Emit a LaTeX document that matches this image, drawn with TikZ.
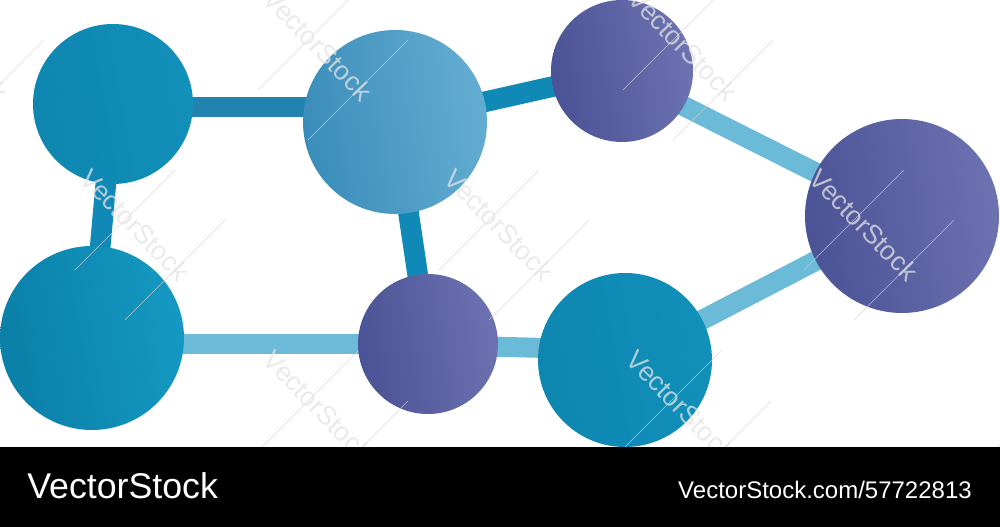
\documentclass[tikz,border=0pt]{standalone}
\usepackage{fontspec}
\setmainfont{Liberation Sans}
\begin{document}
\begin{tikzpicture}[x=0.75pt,y=-0.75pt,
  tealdot/.style={top color=teallo,bottom color=tealhi,shading angle=100},
  tealflat/.style={top color=teal2lo,bottom color=teal2hi,shading angle=100},
  skydot/.style={top color=skylo,bottom color=skyhi,shading angle=100},
  purpdot/.style={top color=purplo,bottom color=purphi,shading angle=100},
  darkedge/.style={line width=15.5pt,draw=edgedark},
  lightedge/.style={line width=15pt,draw=edgelight},
  wmark/.style={text=wmcol,opacity=0.75,rotate=-46,font=\fontsize{20pt}{20pt}\selectfont},
  wline/.style={draw=gray!35,line width=0.4pt,opacity=0.8}
]
\definecolor{teallo}{HTML}{0B7FA8}
\definecolor{tealhi}{HTML}{1499C2}
\definecolor{teal2lo}{HTML}{0E86B0}
\definecolor{teal2hi}{HTML}{1190BA}
\definecolor{skylo}{HTML}{3A8DBA}
\definecolor{skyhi}{HTML}{64ADD1}
\definecolor{purplo}{HTML}{4A5395}
\definecolor{purphi}{HTML}{6D72B1}
\definecolor{edgedark}{HTML}{1189B6}
\definecolor{edgelight}{HTML}{6BBAD7}
\definecolor{edgemid}{HTML}{2283B1}
\definecolor{wmcol}{HTML}{E4E4E4}
\useasboundingbox (0,0) rectangle (1000,527);
\fill[white] (0,0) rectangle (1000,527);
% node positions
\coordinate (c1) at (113,104);
\coordinate (c2) at (92,338);
\coordinate (c3) at (395,122);
\coordinate (c4) at (428,344);
\coordinate (c5) at (622,71);
\coordinate (c6) at (625,360);
\coordinate (c7) at (902,216);
% connector end points
\coordinate (e13a) at (113,107);
\coordinate (e13b) at (395,107);
\coordinate (e24a) at (92,344);
\coordinate (e24b) at (428,344);
\coordinate (e46a) at (428,345);
\coordinate (e46b) at (625,350);
\coordinate (e57a) at (622,75);
% connectors
\draw[darkedge,draw=edgemid] (e13a) -- (e13b);
\draw[darkedge] (c1) -- (c2);
\draw[darkedge] (c3) -- (c4);
\draw[darkedge] (c3) -- (c5);
\draw[lightedge] (e24a) -- (e24b);
\draw[lightedge] (e46a) -- (e46b);
\draw[lightedge] (e57a) -- (c7);
\draw[lightedge] (c6) -- (c7);
% nodes
\shade[tealflat] (c1) circle[radius=80];
\shade[tealdot] (c2) circle[radius=92];
\shade[skydot] (c3) circle[radius=92];
\shade[purpdot] (c4) circle[radius=70];
\shade[purpdot] (c5) circle[radius=71];
\shade[tealflat] (c6) circle[radius=87];
\shade[purpdot] (c7) circle[radius=97];
% watermark
\begin{scope}
\clip (0,0) rectangle (1000,447);
\foreach \x/\y in {-46/45,318/45,683/45,135/225,499/225,864/225,318/406,681/406,1054/406}{
  \draw[wline] (\x-60,\y+45) -- (\x+40,\y-55);
  \draw[wline] (\x-10,\y+95) -- (\x+90,\y-5);
  \node[wmark] at (\x,\y) {VectorStock};
}
\end{scope}
% bottom bar
\fill[black] (0,447) rectangle (1000,527);
\node[anchor=base west,text=white,inner sep=0pt,font=\fontsize{26.8pt}{26.8pt}\selectfont] (brand) at (27,498) {VectorStock};
\node[anchor=base east,text=white,inner sep=0pt,font=\fontsize{18pt}{18pt}\selectfont] (ref) at (972,498) {VectorStock.com/57722813};
\end{tikzpicture}
\end{document}
